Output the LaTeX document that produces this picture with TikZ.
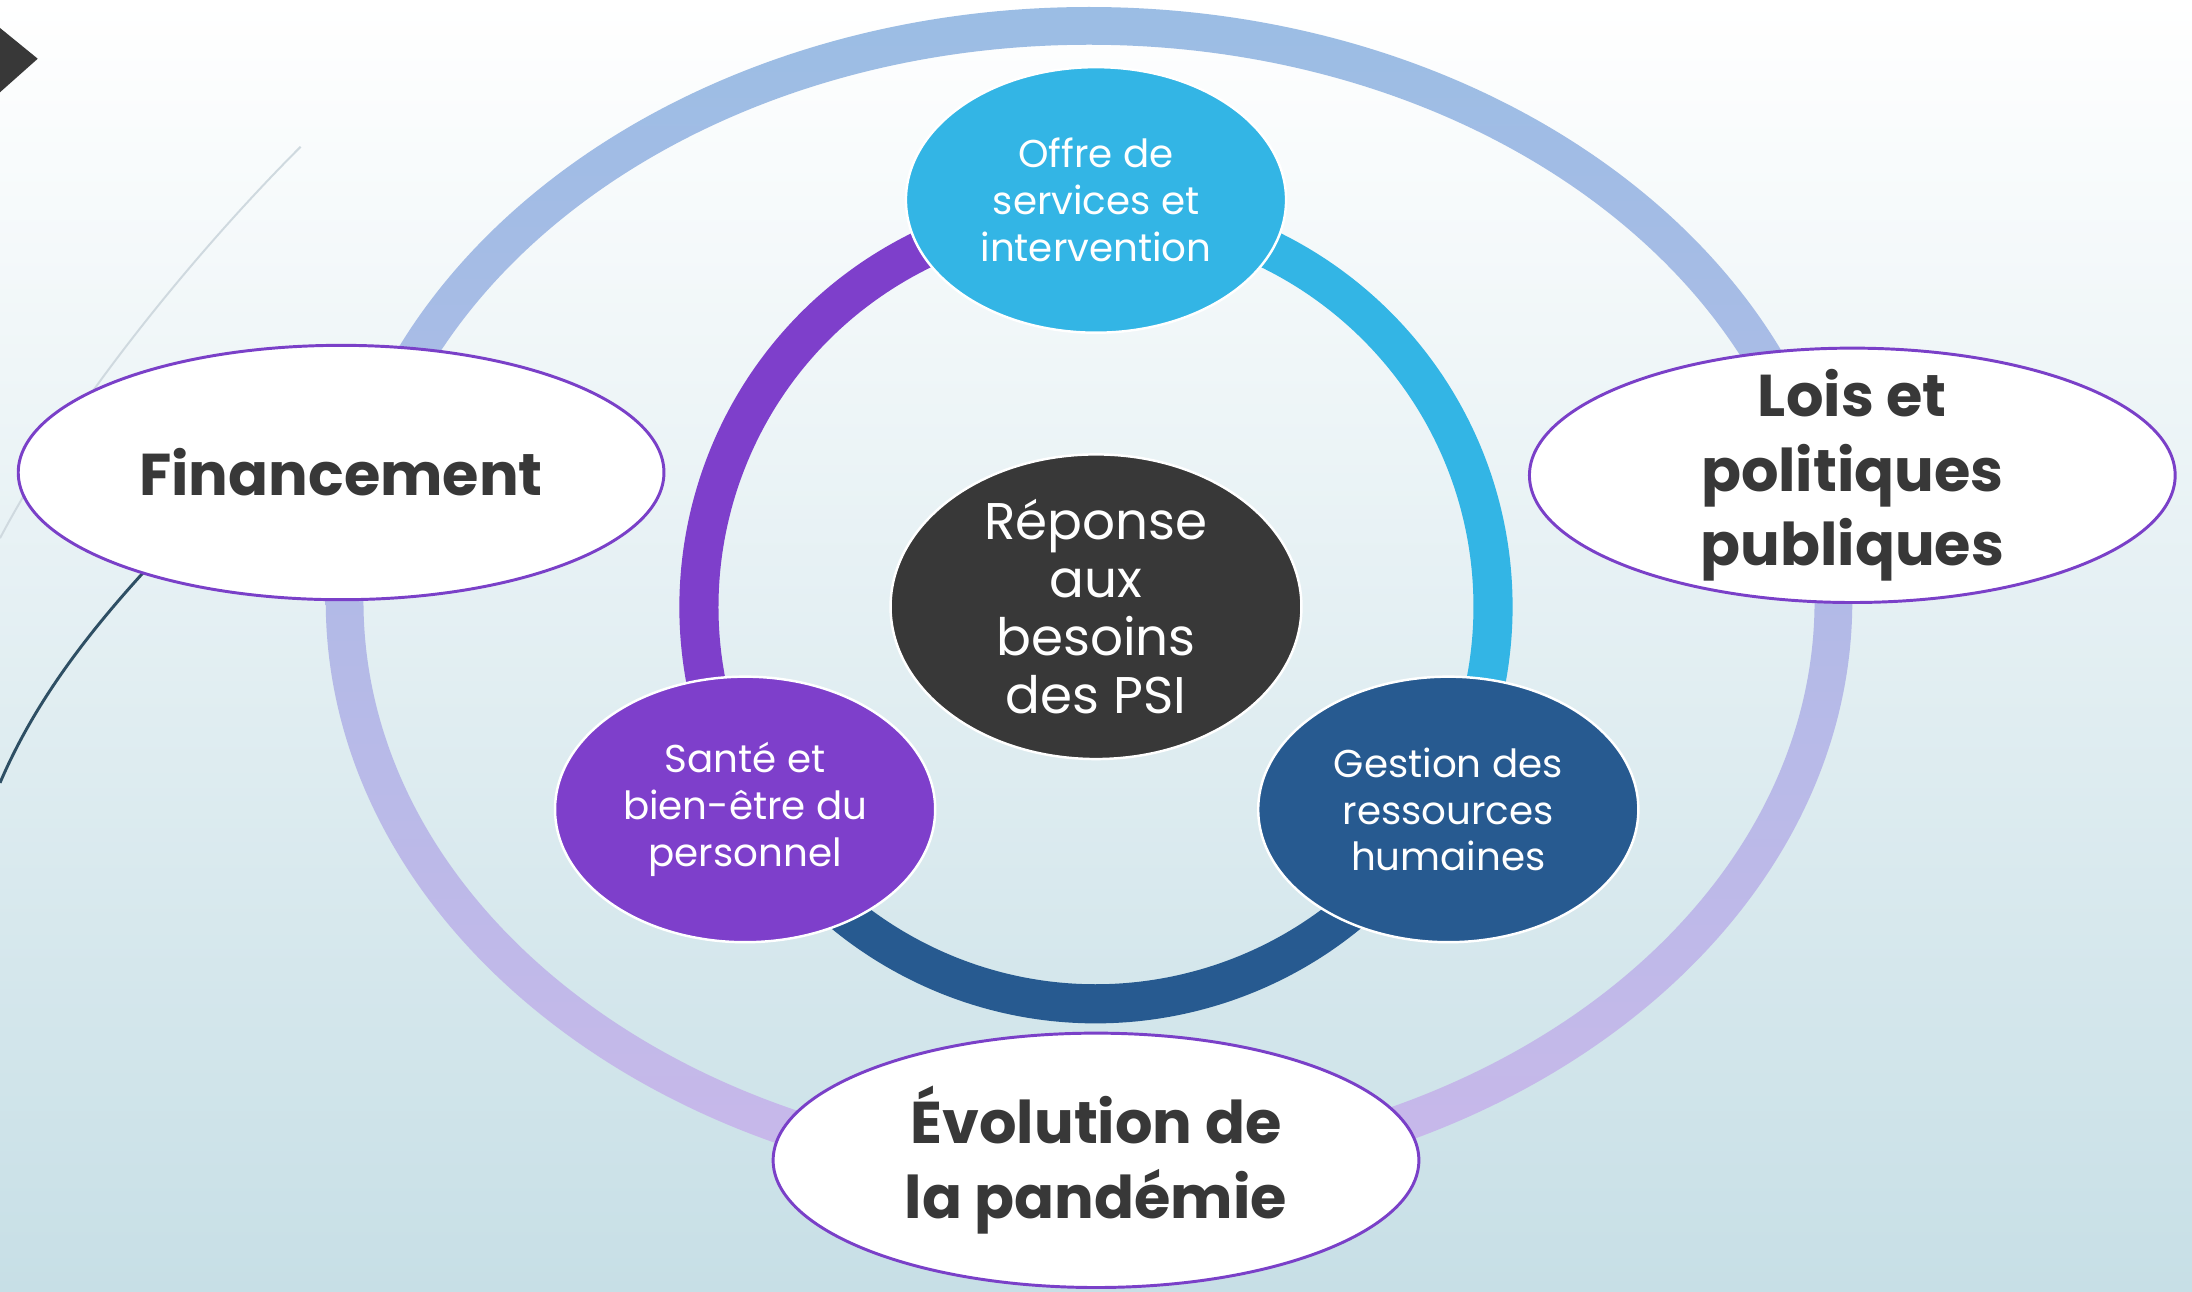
\documentclass[tikz,border=0pt]{standalone}
\usepackage{fontspec}
\setmainfont{Poppins}
\usetikzlibrary{shapes.geometric}

\definecolor{ringcyan}{HTML}{33B5E5}
\definecolor{ringpurple}{HTML}{7E3FCB}
\definecolor{ringblue}{HTML}{275A90}
\definecolor{hubgrey}{HTML}{383838}
\definecolor{edgepurple}{HTML}{7A40C8}
\definecolor{outertop}{HTML}{9BBDE4}
\definecolor{outerbottom}{HTML}{C9B8EA}
\definecolor{bgbottom}{HTML}{C7DFE6}
\definecolor{themegrey}{HTML}{CFD9DF}
\definecolor{themeteal}{HTML}{2E4F64}

\tikzset{
  band/.style={line width=0.56cm},
  inner/.style={ellipse, draw=white, line width=1pt, text=white,
    minimum width=5.44cm, minimum height=3.8cm, inner sep=0pt,
    align=center, font=\fontsize{15.8}{19}\selectfont},
  hubnode/.style={ellipse, draw=white, line width=1pt, fill=hubgrey, text=white,
    minimum width=5.88cm, minimum height=4.28cm, inner sep=0pt,
    align=center, font=\fontsize{21}{23.7}\selectfont},
  outer/.style={ellipse, draw=edgepurple, line width=1.2pt, fill=white, text=hubgrey,
    minimum width=9.24cm, minimum height=3.64cm, inner sep=0pt,
    align=center, font=\fontsize{24}{30.4}\selectfont\bfseries}
}

\begin{document}
\begin{tikzpicture}[x=0.02cm, y=-0.02cm]
                 \useasboundingbox (0,0) rectangle (1568,924);
                 \shade[top color=white, bottom color=bgbottom] (0,0) rectangle (1568,924);
                 % slide theme
                 \draw[themegrey, line width=0.8pt] (215,105) .. controls (140,180) and (50,290) .. (0,385);
                 \draw[themeteal, line width=1.2pt] (150,360) .. controls (80,430) and (30,490) .. (0,560);
                 \fill[hubgrey] (0,20) -- (27,42) -- (0,66) -- cycle;
                 % outer ring
                 \shade[top color=outertop, bottom color=outerbottom, even odd rule]
                   (779,430) ellipse [x radius=546, y radius=425]
                   (779,430) ellipse [x radius=519, y radius=398];
                 % inner ring
                 \coordinate (ringc) at (784,434);
                 \draw[band, ringcyan] ([shift={(-90:284)}]ringc) arc[start angle=-90, end angle=30, radius=284];
                 \draw[band, ringblue] ([shift={(30:284)}]ringc) arc[start angle=30, end angle=150, radius=284];
                 \draw[band, ringpurple] ([shift={(150:284)}]ringc) arc[start angle=150, end angle=270, radius=284];
                 \node[hubnode] (hub) at (ringc) {Réponse\\aux\\besoins\\des PSI};
                 \node[inner, fill=ringcyan] (offre) at (784,143) {Offre de\\services et\\intervention};
                 \node[inner, fill=ringpurple] (sante) at (533,579) {Santé et\\bien-être du\\personnel};
                 \node[inner, fill=ringblue] (gestion) at (1036,579) {Gestion des\\ressources\\humaines};
                 \node[outer] (financement) at (244,338) {Financement};
                 \node[outer, inner ysep=-1cm] (lois) at (1325,340) {Lois et\\politiques\\publiques};
                 \node[outer] (pandemie) at (784,830) {Évolution de\\la pandémie};
            \end{tikzpicture}
\end{document}
